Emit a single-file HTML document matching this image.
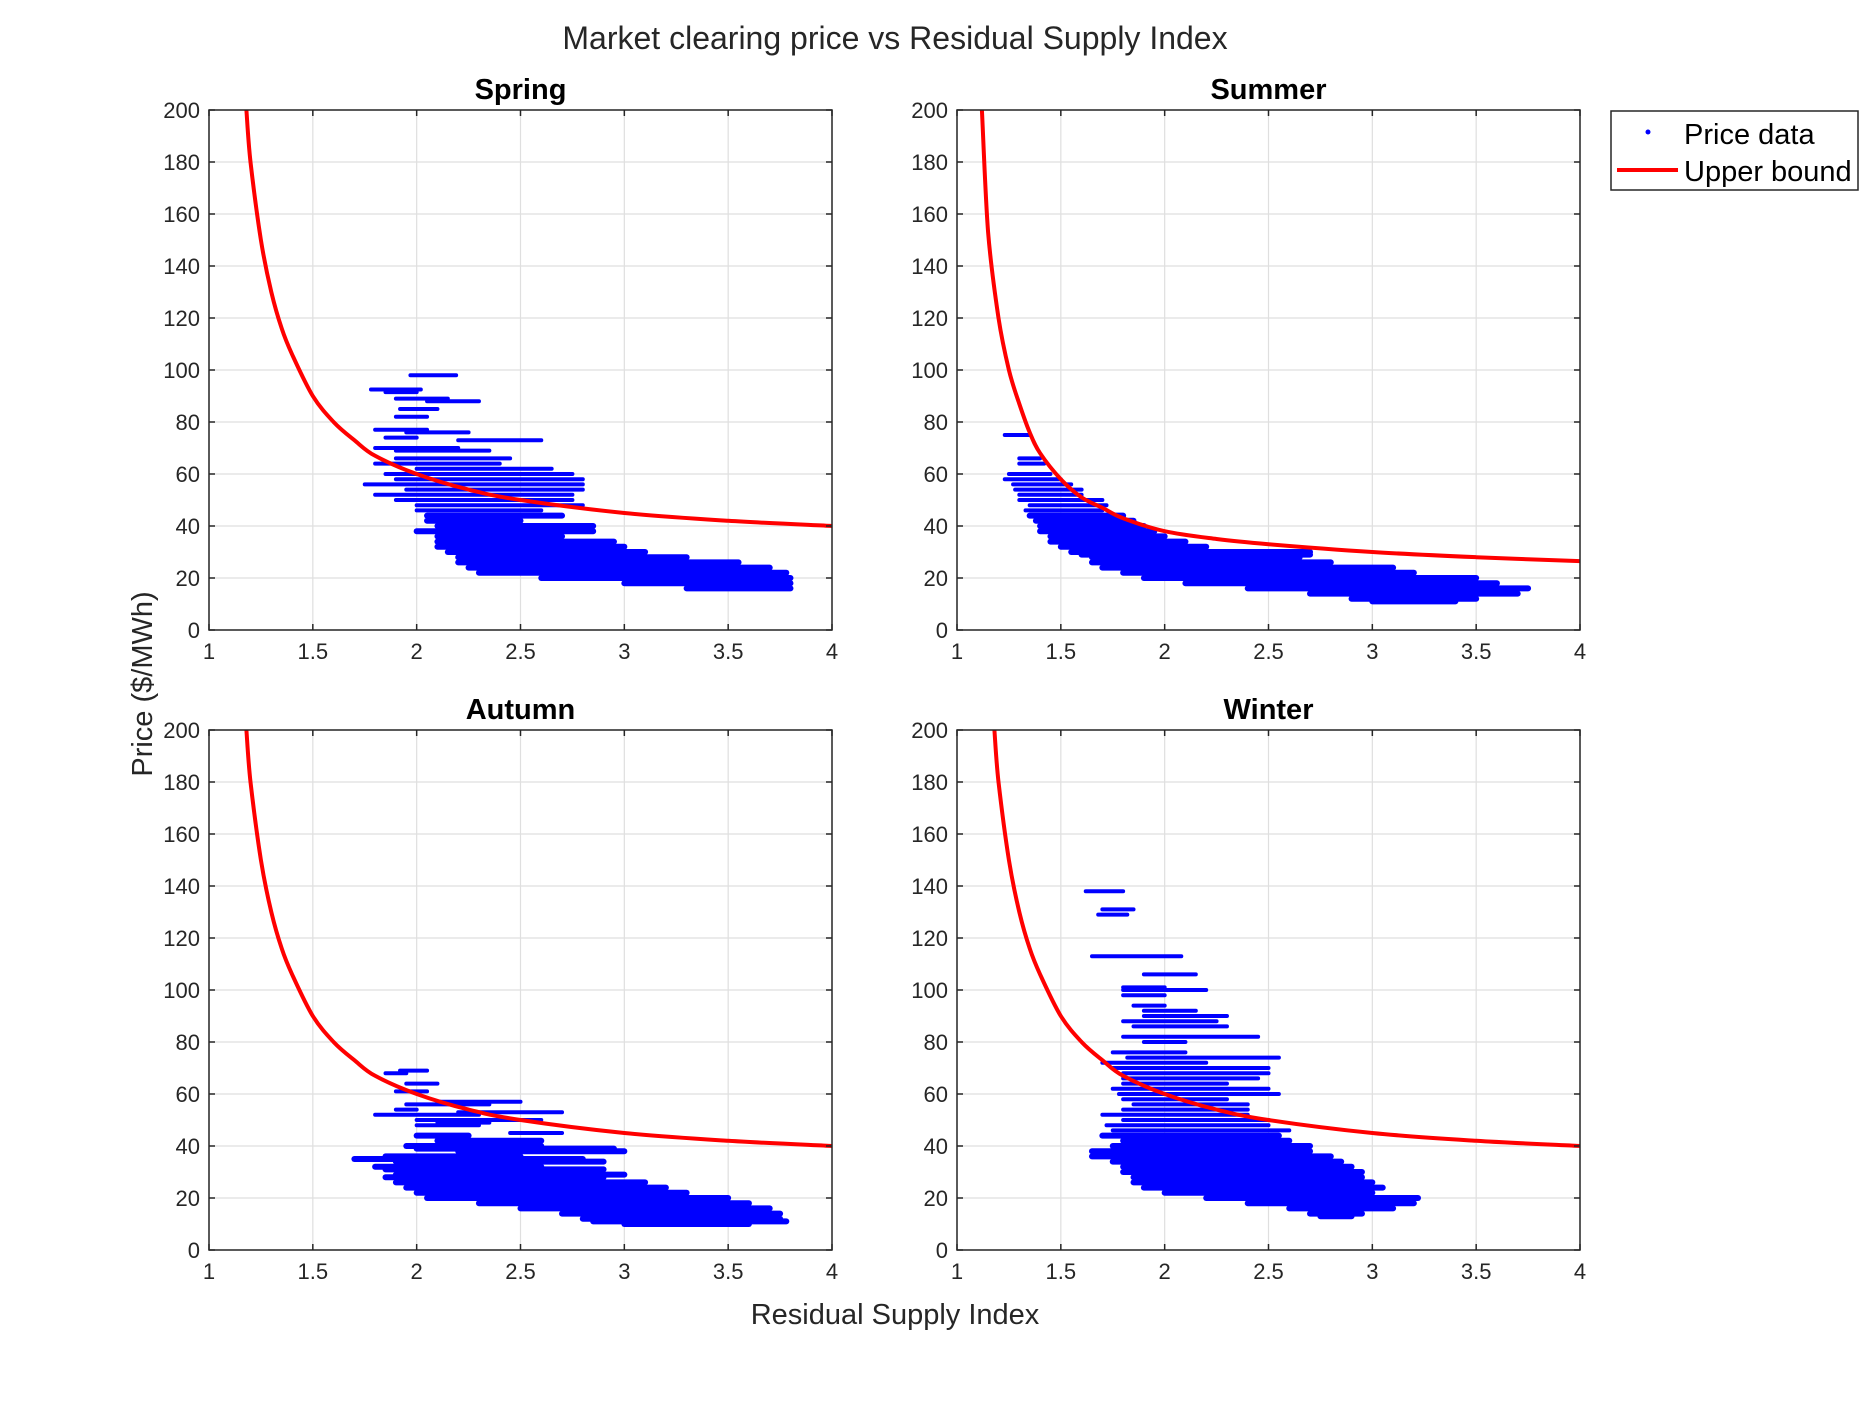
<!DOCTYPE html>
<html><head><meta charset="utf-8"><style>
html,body{margin:0;padding:0;background:#fff;}
svg{display:block;font-family:"Liberation Sans",Arial,sans-serif;}
</style></head><body>
<svg id="fig" width="1875" height="1406" viewBox="0 0 1875 1406" xmlns="http://www.w3.org/2000/svg">
<rect width="1875" height="1406" fill="#fff"/>
<text x="895" y="49" text-anchor="middle" font-size="32" fill="#262626">Market clearing price vs Residual Supply Index</text>
<text transform="translate(152,684) rotate(-90)" text-anchor="middle" font-size="29" fill="#262626">Price ($/MWh)</text>
<text x="895" y="1324" text-anchor="middle" font-size="29" fill="#262626">Residual Supply Index</text>
<g>
<rect x="1611" y="111" width="247" height="79" fill="#fff" stroke="#262626" stroke-width="1.5"/>
<circle cx="1648" cy="132" r="2.5" fill="#0000ff"/>
<text x="1684" y="144" font-size="29" fill="#000">Price data</text>
<line x1="1617" y1="170" x2="1678" y2="170" stroke="#ff0000" stroke-width="4"/>
<text x="1684" y="181" font-size="29" fill="#000">Upper bound</text>
</g>
</svg>
<script>
const xTicks=[1,1.5,2,2.5,3,3.5,4];
const xTickLabels=["1","1.5","2","2.5","3","3.5","4"];
const yTicks=[0,20,40,60,80,100,120,140,160,180,200];
const panelNames=["Spring","Summer","Autumn","Winter"];

const springCurveX=[1.18,1.2,1.25,1.3,1.35,1.4,1.5,1.6,1.7,1.8,2,2.25,2.5,3,3.5,4];
const springCurveY=[200,180,150,130,116,106,90,80,73,67,60,54,50,45,42,40];
const summerCurveX=[1.12,1.15,1.2,1.25,1.3,1.35,1.4,1.5,1.6,1.7,1.8,2,2.25,2.5,3,3.5,4];
const summerCurveY=[200,153,120,100,87,76,68,58,51,47,43,38,35,33,30,28,26.5];
const autumnCurveX=springCurveX;
const autumnCurveY=springCurveY;
const winterCurveX=springCurveX;
const winterCurveY=springCurveY;

// scatter runs: [price, rsiStart, rsiEnd]
const springRuns=[[98,1.97,2.19],[92.5,1.78,2.02],[91.5,1.85,2.0],[89,1.9,2.15],[88,2.05,2.3],[85,1.92,2.1],[82,1.9,2.05],[77,1.8,2.05],[76,1.95,2.25],[74,1.85,2.0],[73,2.2,2.6],[70,1.8,2.2],[69,1.9,2.35],[66,1.9,2.45],[64,1.8,2.4],[62,2.0,2.65],[60,1.85,2.75],[58,1.9,2.8],[56,1.75,2.8],[54,1.95,2.8],[52,1.8,2.75],[50,1.9,2.75],[48,2.0,2.8],[46,2.0,2.6],[44,2.05,2.7],[42,2.05,2.5],[40,2.1,2.85],[38,2.0,2.85],[36,2.1,2.7],[34,2.1,2.95],[32,2.1,3.0],[30,2.15,3.1],[28,2.2,3.3],[26,2.2,3.55],[24,2.25,3.7],[22,2.3,3.78],[20,2.6,3.8],[18,3.0,3.8],[16,3.3,3.8]];
const summerRuns=[[75,1.23,1.35],[66,1.3,1.4],[64,1.3,1.42],[60,1.25,1.45],[58,1.23,1.5],[56,1.27,1.55],[54,1.28,1.6],[52,1.3,1.6],[50,1.3,1.7],[48,1.35,1.72],[46,1.33,1.7],[44,1.35,1.8],[42,1.38,1.85],[40,1.4,1.9],[38,1.4,1.95],[36,1.45,2.0],[34,1.45,2.1],[32,1.5,2.2],[30,1.55,2.7],[29,1.6,2.7],[28,1.65,2.65],[26,1.65,2.8],[24,1.7,3.1],[22,1.8,3.2],[20,1.9,3.5],[18,2.1,3.6],[16,2.4,3.75],[14,2.7,3.7],[12,2.9,3.5],[11,3.0,3.4]];
const autumnRuns=[[69,1.92,2.05],[68,1.85,1.95],[64,1.95,2.1],[61,1.9,2.05],[57,2.1,2.5],[56,1.95,2.35],[54,1.9,2.0],[53,2.2,2.7],[52,1.8,2.3],[50,2.0,2.6],[49,2.1,2.35],[48,2.0,2.3],[45,2.45,2.7],[44,2.0,2.25],[42,2.1,2.6],[40,1.95,2.6],[39,2.0,2.95],[38,2.2,3.0],[36,1.85,2.5],[35,1.7,2.8],[34,1.9,2.9],[32,1.8,2.6],[31,1.85,2.9],[29,1.9,3.0],[28,1.85,2.9],[26,1.9,3.1],[24,1.95,3.2],[22,2.0,3.3],[20,2.05,3.5],[18,2.3,3.6],[16,2.5,3.7],[14,2.7,3.75],[12,2.8,3.75],[11,2.85,3.78],[10,3.0,3.6]];
const winterRuns=[[138,1.62,1.8],[131,1.7,1.85],[129,1.68,1.82],[113,1.65,2.08],[106,1.9,2.15],[101,1.8,2.0],[100,1.8,2.2],[98,1.8,2.0],[94,1.85,2.0],[92,1.9,2.15],[90,1.9,2.3],[88,1.8,2.25],[86,1.85,2.3],[82,1.8,2.45],[80,1.9,2.1],[76,1.75,2.1],[74,1.82,2.55],[72,1.7,2.2],[70,1.75,2.5],[68,1.8,2.5],[66,1.8,2.45],[64,1.8,2.3],[62,1.75,2.5],[60,1.78,2.55],[58,1.8,2.3],[56,1.85,2.4],[54,1.8,2.4],[52,1.7,2.4],[50,1.8,2.5],[48,1.72,2.5],[46,1.75,2.6],[44,1.7,2.55],[42,1.8,2.6],[40,1.75,2.7],[38,1.65,2.7],[36,1.65,2.8],[34,1.75,2.85],[32,1.8,2.9],[30,1.8,2.95],[28,1.85,2.95],[26,1.85,3.0],[24,1.9,3.05],[22,2.0,3.0],[20,2.2,3.22],[18,2.4,3.2],[16,2.6,3.1],[14,2.7,2.95],[13,2.75,2.9]];

const NS="http://www.w3.org/2000/svg";
const svg=document.getElementById('fig');
const panels=[
 {name:panelNames[0],x0:209,y0:110,cx:springCurveX,cy:springCurveY,runs:springRuns},
 {name:panelNames[1],x0:957,y0:110,cx:summerCurveX,cy:summerCurveY,runs:summerRuns},
 {name:panelNames[2],x0:209,y0:730,cx:autumnCurveX,cy:autumnCurveY,runs:autumnRuns},
 {name:panelNames[3],x0:957,y0:730,cx:winterCurveX,cy:winterCurveY,runs:winterRuns}
];
const W=623,H=520;
function mk(tag,attrs,parent){const e=document.createElementNS(NS,tag);for(const k in attrs)e.setAttribute(k,attrs[k]);parent.appendChild(e);return e;}
function smoothPath(pts){
 let d='M'+pts[0][0].toFixed(1)+' '+pts[0][1].toFixed(1);
 for(let i=0;i<pts.length-1;i++){
  const p0=pts[Math.max(i-1,0)],p1=pts[i],p2=pts[i+1],p3=pts[Math.min(i+2,pts.length-1)];
  const c1x=p1[0]+(p2[0]-p0[0])/6,c1y=p1[1]+(p2[1]-p0[1])/6;
  const c2x=p2[0]-(p3[0]-p1[0])/6,c2y=p2[1]-(p3[1]-p1[1])/6;
  d+=' C'+c1x.toFixed(1)+' '+c1y.toFixed(1)+' '+c2x.toFixed(1)+' '+c2y.toFixed(1)+' '+p2[0].toFixed(1)+' '+p2[1].toFixed(1);
 }
 return d;
}
panels.forEach(p=>{
 const slug=p.name.toLowerCase();
 const xs=v=>p.x0+(v-1)/3*W;
 const ys=v=>p.y0+H-v/200*H;
 const g=document.createElementNS(NS,'g');
 
 
 svg.appendChild(g);
 xTicks.forEach(t=>{mk('line',{x1:xs(t),x2:xs(t),y1:p.y0,y2:p.y0+H,stroke:'#dfdfdf','stroke-width':1.2},g);});
 yTicks.forEach(t=>{mk('line',{x1:p.x0,x2:p.x0+W,y1:ys(t),y2:ys(t),stroke:'#dfdfdf','stroke-width':1.2},g);});
 const sg=document.createElementNS(NS,'g');
 
 
 g.appendChild(sg);
 p.runs.forEach(r=>{
  const l=mk('line',{x1:xs(r[1]),x2:xs(r[2]),y1:ys(r[0]),y2:ys(r[0]),stroke:'#0000ff','stroke-width':r[0]<45?6:4,'stroke-linecap':'round'},sg);
  
  
 });
 const pts=p.cx.map((x,i)=>[xs(x),ys(p.cy[i])]);
 const c=mk('path',{d:smoothPath(pts),fill:'none',stroke:'#ff0000','stroke-width':4,'stroke-linejoin':'round'},g);
 
 
 mk('rect',{x:p.x0,y:p.y0,width:W,height:H,fill:'none',stroke:'#262626','stroke-width':1.5},g);
 xTicks.forEach((t,i)=>{
  mk('line',{x1:xs(t),x2:xs(t),y1:p.y0,y2:p.y0+6,stroke:'#262626','stroke-width':1.5},g);
  mk('line',{x1:xs(t),x2:xs(t),y1:p.y0+H,y2:p.y0+H-6,stroke:'#262626','stroke-width':1.5},g);
  const tx=mk('text',{x:xs(t),y:p.y0+H+29,'text-anchor':'middle','font-size':22,fill:'#262626'},g);
  tx.textContent=xTickLabels[i];
  
  
 });
 yTicks.forEach(t=>{
  mk('line',{x1:p.x0,x2:p.x0+6,y1:ys(t),y2:ys(t),stroke:'#262626','stroke-width':1.5},g);
  mk('line',{x1:p.x0+W,x2:p.x0+W-6,y1:ys(t),y2:ys(t),stroke:'#262626','stroke-width':1.5},g);
  const ty=mk('text',{x:p.x0-9,y:ys(t)+8,'text-anchor':'end','font-size':22,fill:'#262626'},g);
  ty.textContent=String(t);
  
  
 });
 const tt=mk('text',{x:p.x0+W/2,y:p.y0-11,'text-anchor':'middle','font-size':29,'font-weight':'bold',fill:'#000'},g);
 tt.textContent=p.name;
 
 
});
</script>
</body></html>
